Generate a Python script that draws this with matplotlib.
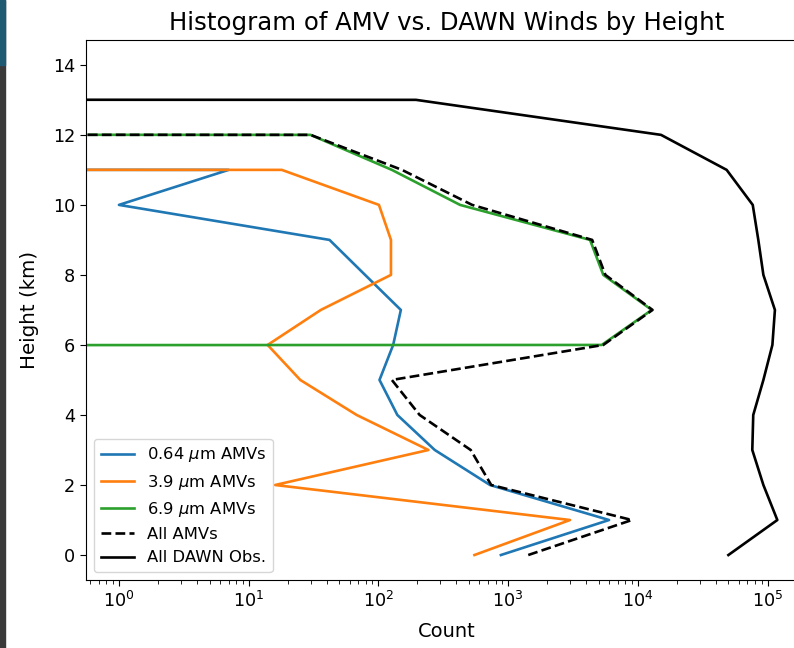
import matplotlib
matplotlib.use('Agg')
from matplotlib import pyplot as plt
from matplotlib.patches import Rectangle

# heights of the bins (km) and counts in each bin
heights = [0, 1, 2, 3, 4, 5, 6, 7, 8, 9, 10, 11, 12, 13, 14]
vis064 = [880, 6000, 725, 272, 140, 102, 130, 149, 79, 42, 1, 7, 0, 0, 0]
ir39 = [550, 3000, 16, 243, 68, 25, 14, 36, 125, 125, 101, 18, 0, 0, 0]
wv69 = [0, 0, 0, 0, 0, 0, 5270, 12800, 5420, 4280, 426, 127, 30, 0, 0]
allAMV = [1430, 9000, 741, 515, 208, 127, 5414, 12985, 5624, 4447, 528, 152, 30, 0, 0]
allDAWN = [49900, 119000, 92900, 76300, 77600, 92900, 109000, 114000, 92900,
           84900, 76900, 48400, 15100, 195, 0]

fig = plt.figure(figsize=(7.94, 6.48), dpi=100)
ax = fig.add_axes([0.1083, 0.1049, 0.9093, 0.8334])

lw = 1.9
ax.plot(vis064, heights, color='tab:blue', lw=lw, label=r'0.64 $\mu$m AMVs')
ax.plot(ir39, heights, color='tab:orange', lw=lw, label=r'3.9 $\mu$m AMVs')
ax.plot(wv69, heights, color='tab:green', lw=lw, label=r'6.9 $\mu$m AMVs')
ax.plot(allAMV, heights, 'k--', lw=lw, label='All AMVs')
ax.plot(allDAWN, heights, 'k-', lw=lw, label='All DAWN Obs.')

ax.set_xscale('log')
ax.set_xlim(0.557, 2.05e5)
ax.set_ylim(-0.714, 14.71)
ax.set_yticks([0, 2, 4, 6, 8, 10, 12, 14])
ax.tick_params(labelsize=12.7, length=4.5)
ax.tick_params(which='minor', length=2.6)

ax.set_xlabel('Count', fontsize=14, labelpad=8)
ax.set_ylabel('Height (km)', fontsize=14.3, labelpad=10)
ax.set_title('Histogram of AMV vs. DAWN Winds by Height', fontsize=17.6, pad=7)
ax.legend(loc='lower left', fontsize=11.8)

# dark window border on the left edge
fig.patches.append(Rectangle((0, 0), 4.5 / 794, 1, transform=fig.transFigure,
                             color='#3a3a3a', zorder=5))
fig.patches.append(Rectangle((0, 1 - 65 / 648), 4.5 / 794, 65 / 648,
                             transform=fig.transFigure, color='#1e5b73', zorder=6))

fig.savefig('out.png', dpi=100)
